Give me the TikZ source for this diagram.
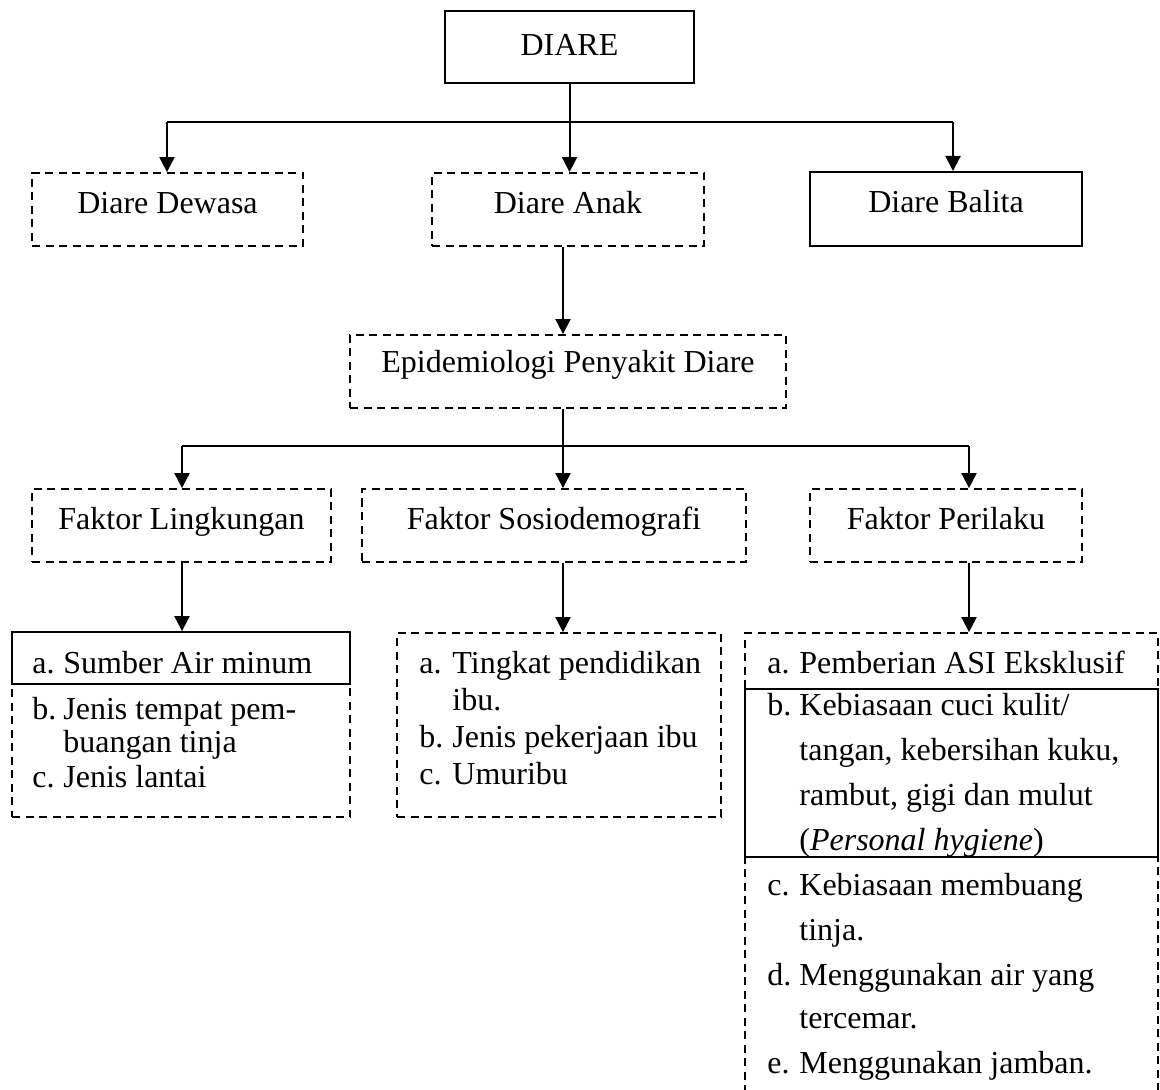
\documentclass[tikz,border=0pt]{standalone}
\usepackage{fontspec}
\setmainfont{Liberation Serif}
\usetikzlibrary{arrows.meta}
\newcommand\itemlab[2][16pt]{\makebox[#1][l]{#2}}
\begin{document}
\begin{tikzpicture}[x=0.5pt,y=-0.5pt,
  font=\fontsize{16}{19}\selectfont,
  solidbox/.style={draw, line width=1pt, rectangle, inner sep=0pt, text height=11pt, text depth=7pt},
  dashbox/.style={solidbox, line width=0.9pt, dash pattern=on 4pt off 2.75pt},
  arr/.style={line width=1pt, -{Triangle[length=7.5pt,width=7.5pt]}},
  ln/.style={line width=1pt},
  txt/.style={anchor=base west, inner sep=0pt},
]
\useasboundingbox (0,0) rectangle (1160,1090);
\clip (0,0) rectangle (1160,1090);

% level 0
\node[solidbox, minimum width=124.5pt, minimum height=36pt, text height=12pt, text depth=3pt] (diare) at (569.5,47) {DIARE};

% level 1
\node[dashbox, minimum width=135.5pt, minimum height=36.5pt] (dewasa) at (167.5,209.5) {Diare Dewasa};
\node[dashbox, minimum width=136pt, minimum height=36.5pt] (anak) at (568,209.5) {Diare Anak};
\node[solidbox, minimum width=136pt, minimum height=37pt] (balita) at (946,209) {Diare Balita};

% level 2
\node[dashbox, minimum width=218pt, minimum height=36.5pt, text height=10pt, text depth=8.5pt] (epi) at (568,371.5) {Epidemiologi Penyakit Diare};

% level 3
\node[dashbox, minimum width=149.5pt, minimum height=36.5pt] (fl) at (181.5,525.5) {Faktor Lingkungan};
\node[dashbox, minimum width=192pt, minimum height=36.5pt] (fs) at (554,525.5) {Faktor Sosiodemografi};
\node[dashbox, minimum width=136pt, minimum height=36.5pt] (fp) at (946,525.5) {Faktor Perilaku};

% level 4 boxes
\node[dashbox, minimum width=169pt, minimum height=92.5pt] (lb) at (181,724.5) {};
\node[solidbox, minimum width=169pt, minimum height=26pt] (lbA) at (181,658) {};
\node[dashbox, minimum width=162pt, minimum height=92pt] (mb) at (559,725) {};
\node[dashbox, minimum width=206.5pt, minimum height=238.5pt] (rb) at (951.5,871.5) {};
\node[solidbox, minimum width=206.5pt, minimum height=84pt] (rbB) at (951.5,773) {};

% junction coordinates
\coordinate (t1) at (167,122);
\coordinate (t3) at (953,122);
\coordinate (spine) at (563,446);
\coordinate (u1) at (182,446);
\coordinate (u3) at (969,446);

% top connectors
\draw[ln] (t1) -- (t3);
\draw[arr] (diare.south) -- (diare.south |- anak.north);
\draw[arr] (t1) -- (t1 |- dewasa.north);
\draw[arr] (t3) -- (t3 |- balita.north);

% anak -> epi
\draw[arr] (anak.south -| spine) -- (epi.north -| spine);

% epi -> factors
\draw[ln] (epi.south -| spine) -- (spine);
\draw[ln] (u1) -- (u3);
\draw[arr] (u1) -- (u1 |- fl.north);
\draw[arr] (spine) -- (spine |- fs.north);
\draw[arr] (u3) -- (u3 |- fp.north);

% factors -> lists
\draw[arr] (fl.south -| u1) -- (lb.north -| u1);
\draw[arr] (fs.south -| spine) -- (mb.north -| spine);
\draw[arr] (fp.south -| u3) -- (rb.north -| u3);

% left list
\node[txt] (la) at (32,673) {\itemlab[15.5pt]{a.}Sumber Air minum};
\node[txt] (lb1) at (32,719) {\itemlab[15.5pt]{b.}Jenis tempat pem-};
\node[txt] (lb2) at (32,752) {\itemlab[15.5pt]{}buangan tinja};
\node[txt] (lc) at (32,787) {\itemlab[15.5pt]{c.}Jenis lantai};

% middle list
\node[txt] (ma1) at (419,673) {\itemlab[16.5pt]{a.}Tingkat pendidikan};
\node[txt] (ma2) at (419,710) {\itemlab[16.5pt]{}ibu.};
\node[txt] (mb1) at (419,747) {\itemlab[16.5pt]{b.}Jenis pekerjaan ibu};
\node[txt] (mc) at (419,784) {\itemlab[16.5pt]{c.}Umuribu};

% right list
\node[txt] (ra) at (767,673) {\itemlab{a.}Pemberian ASI Eksklusif};
\node[txt] (rb1) at (767,715) {\itemlab{b.}Kebiasaan cuci kulit/};
\node[txt] (rb2) at (767,760) {\itemlab{}tangan, kebersihan kuku,};
\node[txt] (rb3) at (767,805) {\itemlab{}rambut, gigi dan mulut};
\node[txt] (rb4) at (767,850) {\itemlab{}(\textit{Personal hygiene})};
\node[txt] (rc1) at (767,895) {\itemlab{c.}Kebiasaan membuang};
\node[txt] (rc2) at (767,940) {\itemlab{}tinja.};
\node[txt] (rd1) at (767,985) {\itemlab{d.}Menggunakan air yang};
\node[txt] (rd2) at (767,1028) {\itemlab{}tercemar.};
\node[txt] (re) at (767,1073) {\itemlab{e.}Menggunakan jamban.};
\end{tikzpicture}
\end{document}
